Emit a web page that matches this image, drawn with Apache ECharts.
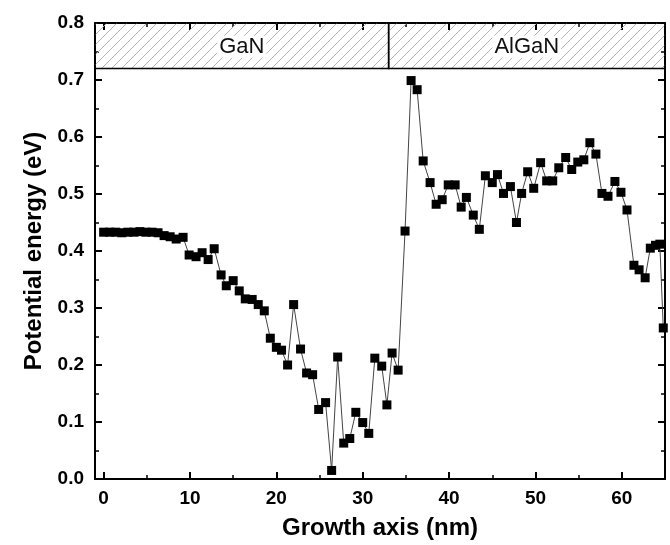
<!DOCTYPE html>
<html>
<head>
<meta charset="utf-8">
<script src="https://cdn.jsdelivr.net/npm/echarts@6/dist/echarts.min.js"></script>
<style>
html,body{margin:0;padding:0;background:#fff;}
#main{width:670px;height:545px;}
</style>
</head>
<body>
<div id="main"></div>
<script>
// Growth axis positions (nm)
var xValues = [0,0.7,1.4,2.1,2.8,3.5,4.2,4.9,5.6,6.3,7.0,7.7,8.4,9.2,
  9.9,10.7,11.4,12.1,12.8,13.6,14.2,15.0,15.7,16.4,17.2,17.9,18.6,19.3,20.0,20.6,21.3,22.0,22.8,23.5,24.2,24.9,25.7,26.4,27.1,27.8,28.5,29.2,30.0,30.7,31.4,32.2,32.8,33.4,34.1,
  34.9,35.6,36.3,37.0,37.8,38.5,39.2,39.9,40.7,41.4,42.0,42.8,43.5,44.2,45.0,45.6,46.3,47.1,47.8,48.4,49.1,49.8,50.6,51.3,52.0,52.7,53.5,54.2,54.9,55.6,56.3,57.0,57.7,58.4,59.2,59.9,60.6,61.4,62.0,62.7,63.3,63.9,64.4,64.8];
// Potential energy (eV)
var energy = [0.433,0.433,0.433,0.432,0.433,0.433,0.434,0.433,0.433,0.432,0.427,0.425,0.421,0.424,
  0.393,0.390,0.397,0.385,0.404,0.358,0.339,0.348,0.330,0.316,0.315,0.306,0.295,0.247,0.231,0.226,0.200,0.306,0.228,0.186,0.183,0.122,0.134,0.015,0.214,0.063,0.071,0.117,0.099,0.080,0.212,0.198,0.130,0.221,0.191,
  0.435,0.699,0.683,0.558,0.520,0.482,0.490,0.516,0.516,0.477,0.494,0.463,0.438,0.532,0.520,0.534,0.501,0.513,0.450,0.501,0.539,0.510,0.555,0.523,0.523,0.546,0.564,0.543,0.556,0.560,0.590,0.570,0.501,0.496,0.522,0.503,0.472,0.375,0.367,0.353,0.405,0.410,0.412,0.265];
// Layer bands
var layerNames = ['GaN','AlGaN'];
var layerStart = [-1,33];
var layerEnd = [33,65];
var bandBottom = 0.72, bandTop = 0.8;
var xMajorTicks = [0,10,20,30,40,50,60];
var xMinorTicks = [5,15,25,35,45,55,65];

var seriesData = xValues.map(function(x,i){return [x, energy[i]];});
var bandData = layerNames.map(function(n,i){return [layerStart[i], layerEnd[i], bandBottom, bandTop, n];});

// hatch pattern
var pc = document.createElement('canvas');
pc.width = 10; pc.height = 10;
var pctx = pc.getContext('2d');
pctx.strokeStyle = '#b4b4b4';
pctx.lineWidth = 1;
pctx.beginPath();
pctx.moveTo(-1,11); pctx.lineTo(11,-1);
pctx.stroke();

var FONT = '"Liberation Sans", Arial, sans-serif';
var chart = echarts.init(document.getElementById('main'), null, {renderer:'canvas'});
var axisLine = {show:true, onZero:false, lineStyle:{color:'#000', width:2}};
var noLine = {show:false, onZero:false};
chart.setOption({
  animation:false,
  backgroundColor:'#fff',
  grid:{left:95, right:5, top:23, bottom:62, containLabel:false},
  xAxis:[
    {type:'value', min:-1, max:65, position:'bottom',
     axisLine:axisLine, splitLine:{show:false},
     axisTick:{show:true, inside:true, length:7, lineStyle:{color:'#000', width:2}, customValues:xMajorTicks},
     axisLabel:{show:true, customValues:xMajorTicks, color:'#000', fontFamily:FONT, fontWeight:'bold', fontSize:19, margin:10},
     name:'Growth axis (nm)', nameLocation:'middle', nameGap:37,
     nameTextStyle:{color:'#000', fontFamily:FONT, fontWeight:'bold', fontSize:24}},
    {type:'value', min:-1, max:65, position:'top',
     axisLine:axisLine, splitLine:{show:false},
     axisTick:{show:true, inside:true, length:7, lineStyle:{color:'#000', width:2}, customValues:xMajorTicks},
     axisLabel:{show:false}},
    {type:'value', min:-1, max:65, position:'bottom',
     axisLine:noLine, splitLine:{show:false},
     axisTick:{show:true, inside:true, length:4, lineStyle:{color:'#000', width:1.5}, customValues:xMinorTicks},
     axisLabel:{show:false}},
    {type:'value', min:-1, max:65, position:'top',
     axisLine:noLine, splitLine:{show:false},
     axisTick:{show:true, inside:true, length:4, lineStyle:{color:'#000', width:1.5}, customValues:xMinorTicks},
     axisLabel:{show:false}}
  ],
  yAxis:[
    {type:'value', min:0, max:0.8, interval:0.1, position:'left',
     axisLine:axisLine, splitLine:{show:false},
     axisTick:{show:true, inside:true, length:7, lineStyle:{color:'#000', width:2}},
     minorTick:{show:true, splitNumber:2, length:4, lineStyle:{color:'#000', width:1.5}},
     axisLabel:{color:'#000', fontFamily:FONT, fontWeight:'bold', fontSize:19, margin:11,
       formatter:function(v){return v.toFixed(1);}},
     name:'Potential energy (eV)', nameLocation:'middle', nameGap:44, nameRotate:90,
     nameTextStyle:{color:'#000', fontFamily:FONT, fontWeight:'bold', fontSize:24}},
    {type:'value', min:0, max:0.8, interval:0.1, position:'right',
     axisLine:axisLine, splitLine:{show:false},
     axisTick:{show:true, inside:true, length:7, lineStyle:{color:'#000', width:2}},
     minorTick:{show:true, splitNumber:2, length:4, lineStyle:{color:'#000', width:1.5}},
     axisLabel:{show:false}}
  ],
  series:[
    {type:'custom', xAxisIndex:0, yAxisIndex:0, data:bandData, z:1,
     renderItem:function(params, api){
       var p0 = api.coord([api.value(0), api.value(3)]);
       var p1 = api.coord([api.value(1), api.value(2)]);
       var name = layerNames[params.dataIndex];
       return {type:'group', children:[
         {type:'rect', shape:{x:p0[0], y:p0[1], width:p1[0]-p0[0], height:p1[1]-p0[1]},
          style:{fill:{image:pc, repeat:'repeat'}, stroke:'#000', lineWidth:1.5}},
         {type:'text', x:(p0[0]+p1[0])/2, y:(p0[1]+p1[1])/2 + 1,
          style:{text:name, fill:'#111', font:'22px ' + FONT, align:'center', verticalAlign:'middle', backgroundColor:'#fff', padding:[0,2]}}
       ]};
     }},
    {type:'line', xAxisIndex:0, yAxisIndex:0, data:seriesData, z:3,
     symbol:'rect', symbolSize:9, showSymbol:true,
     lineStyle:{color:'#444', width:1},
     itemStyle:{color:'#000'}}
  ]
});
</script>
</body>
</html>
